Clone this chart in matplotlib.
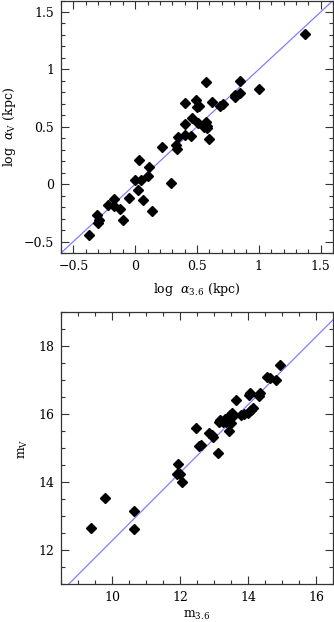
import matplotlib
matplotlib.use('Agg')
import matplotlib.pyplot as plt
from matplotlib.ticker import MultipleLocator

# top panel: log alpha_3.6 vs log alpha_V (kpc)
log_a36 = [1.37, 0.57, 0.85, 1.00, 0.85, 0.81, 0.81, 0.40, 0.49, 0.62,
           0.52, 0.50, 0.71, 0.69, 0.46, 0.40, 0.51, 0.57, 0.58, 0.56,
           0.58, 0.40, 0.45, 0.35, 0.60, 0.22, 0.33, 0.34, 0.03, 0.11,
           0.10, 0.05, 0.00, 0.29, 0.02, -0.05, 0.06, -0.17, -0.22, -0.17,
           -0.12, 0.14, -0.10, -0.31, -0.29, -0.30, -0.37]
log_aV = [1.31, 0.89, 0.90, 0.83, 0.79, 0.78, 0.76, 0.71, 0.73, 0.72,
          0.68, 0.67, 0.70, 0.68, 0.58, 0.52, 0.53, 0.54, 0.51, 0.50,
          0.49, 0.43, 0.42, 0.41, 0.39, 0.32, 0.34, 0.31, 0.21, 0.15,
          0.07, 0.04, 0.04, 0.01, -0.05, -0.12, -0.14, -0.13, -0.18, -0.19,
          -0.22, -0.23, -0.31, -0.27, -0.31, -0.34, -0.44]

# bottom panel: m_3.6 vs m_V
m36 = [14.94, 14.55, 14.64, 14.82, 14.06, 14.02, 14.35, 14.31, 13.66, 14.14,
       14.09, 14.00, 13.89, 13.52, 13.46, 13.57, 13.80, 13.19, 13.25, 13.14,
       13.32, 13.36, 13.49, 12.46, 12.86, 12.93, 12.96, 13.43, 12.57, 12.62,
       13.11, 11.95, 11.90, 11.99, 12.07, 9.78, 10.64, 9.38, 10.66]
mV = [17.45, 17.09, 17.06, 17.02, 16.63, 16.58, 16.62, 16.54, 16.43, 16.19,
      16.13, 16.05, 16.01, 16.04, 15.98, 15.95, 15.99, 15.84, 15.78, 15.78,
      15.85, 15.76, 15.74, 15.60, 15.44, 15.39, 15.32, 15.52, 15.07, 15.10,
      14.85, 14.53, 14.25, 14.25, 14.02, 13.53, 13.17, 12.65, 12.64]

# fitted lines (slope, offset)
top_fit = (1.0, 0.0)
bot_fit = (1.0, 2.28)

plt.rcParams['font.family'] = ['DejaVu Serif']
plt.rcParams['mathtext.fontset'] = 'dejavuserif'
plt.rcParams['font.size'] = 9

fig = plt.figure(figsize=(3.34, 6.22), dpi=100)
ax1 = fig.add_axes([61 / 334, (622 - 253) / 622, 272 / 334, 252.5 / 622])
ax2 = fig.add_axes([61 / 334, (622 - 584.3) / 622, 272 / 334, 272 / 622])


def style(ax, major, minor):
    ax.xaxis.set_major_locator(MultipleLocator(major))
    ax.xaxis.set_minor_locator(MultipleLocator(minor))
    ax.yaxis.set_major_locator(MultipleLocator(major))
    ax.yaxis.set_minor_locator(MultipleLocator(minor))
    ax.tick_params(which='both', direction='in', top=True, right=True,
                   width=0.8, color='#333333')
    ax.tick_params(which='major', length=6, pad=5)
    ax.tick_params(which='minor', length=3)
    for s in ax.spines.values():
        s.set_linewidth(0.9)
        s.set_color('#333333')


x1 = [-0.6, 1.6]
ax1.plot(x1, [top_fit[0] * v + top_fit[1] for v in x1], color='#7f7fff', lw=0.9)
ax1.plot(log_a36, log_aV, 'D', color='black', ms=5.5)
ax1.set_xlim(-0.6, 1.6)
ax1.set_ylim(-0.6, 1.6)
style(ax1, 0.5, 0.1)
ax1.set_xticks([-0.5, 0, 0.5, 1, 1.5])
ax1.set_xticklabels(['\u22120.5', '0', '0.5', '1', '1.5'])
ax1.set_yticks([-0.5, 0, 0.5, 1, 1.5])
ax1.set_yticklabels(['\u22120.5', '0', '0.5', '1', '1.5'])
ax1.set_xlabel(r'log  $\alpha_{3.6}$ (kpc)', labelpad=6)
ax1.set_ylabel(r'log  $\alpha_{\rm V}$ (kpc)', labelpad=4)

x2 = [8.5, 16.5]
ax2.plot(x2, [bot_fit[0] * v + bot_fit[1] for v in x2], color='#7f7fff', lw=0.9)
ax2.plot(m36, mV, 'D', color='black', ms=5.5)
ax2.set_xlim(8.5, 16.5)
ax2.set_ylim(11, 19)
style(ax2, 2, 0.5)
ax2.set_xlabel(r'm$_{3.6}$', labelpad=3)
ax2.set_ylabel(r'm$_{\rm V}$', labelpad=6)

fig.savefig('out.png', dpi=100)
